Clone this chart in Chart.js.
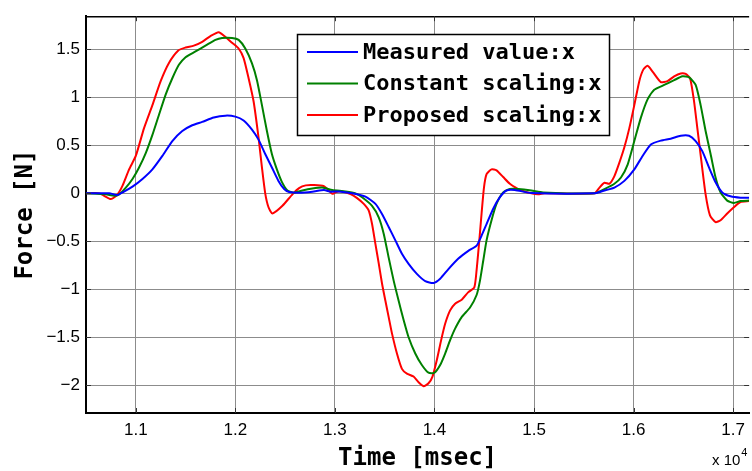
<!DOCTYPE html>
<html><head><meta charset="utf-8">
<script src="https://cdn.jsdelivr.net/npm/chart.js@4"></script>
<style>html,body{margin:0;padding:0;background:#fff}</style>
</head><body>
<canvas id="c" width="752" height="471"></canvas>
<script>
// ---- data (time in msec, force in N) ----
const seriesLabels = ['Measured value:x', 'Constant scaling:x', 'Proposed scaling:x'];
const seriesColors = ['#0000ff', '#008000', '#ff0000'];
const xTickValues = [11000, 12000, 13000, 14000, 15000, 16000, 17000];
const yTickValues = [-2, -1.5, -1, -0.5, 0, 0.5, 1, 1.5];

const measured = [[10500,0],[10733,0],[10817,-0.017],[10867,0.01],[10967,0.07],[11067,0.15],[11167,0.25],[11267,0.39],[11367,0.545],[11467,0.65],[11567,0.71],[11667,0.745],[11783,0.79],[11900,0.81],[12000,0.80],[12083,0.76],[12167,0.665],[12233,0.56],[12300,0.41],[12367,0.27],[12433,0.13],[12490,0.045],[12540,0.014],[12640,0.007],[12773,0.017],[12890,0.035],[12957,0.017],[13040,0.02],[13173,0],[13307,-0.035],[13407,-0.11],[13473,-0.215],[13540,-0.35],[13607,-0.49],[13673,-0.63],[13740,-0.735],[13823,-0.84],[13907,-0.915],[13990,-0.935],[14057,-0.89],[14140,-0.79],[14240,-0.68],[14340,-0.60],[14423,-0.545],[14473,-0.44],[14523,-0.32],[14590,-0.16],[14657,-0.04],[14723,0.03],[14807,0.035],[14973,0.003],[15607,0],[15707,0.03],[15807,0.06],[15907,0.13],[16007,0.25],[16090,0.39],[16173,0.51],[16273,0.55],[16373,0.57],[16473,0.60],[16557,0.60],[16623,0.545],[16690,0.44],[16757,0.27],[16823,0.115],[16890,0.01],[16973,-0.03],[17073,-0.045],[17160,-0.045]];

const constant = [[10500,0],[10700,-0.01],[10783,-0.025],[10833,-0.01],[10900,0.06],[10967,0.15],[11033,0.27],[11100,0.42],[11167,0.61],[11233,0.82],[11300,1.03],[11367,1.20],[11433,1.34],[11500,1.42],[11600,1.48],[11700,1.54],[11800,1.60],[11867,1.62],[11967,1.62],[12033,1.60],[12100,1.51],[12167,1.355],[12217,1.18],[12267,0.92],[12317,0.65],[12367,0.41],[12417,0.25],[12467,0.12],[12523,0.03],[12590,0.007],[12673,0.03],[12773,0.05],[12873,0.06],[12973,0.035],[13107,0.02],[13207,0],[13273,-0.04],[13373,-0.13],[13440,-0.25],[13490,-0.42],[13540,-0.67],[13590,-0.91],[13640,-1.12],[13690,-1.32],[13740,-1.50],[13807,-1.67],[13873,-1.79],[13940,-1.87],[14000,-1.87],[14057,-1.79],[14107,-1.67],[14157,-1.53],[14207,-1.41],[14273,-1.29],[14357,-1.19],[14423,-1.06],[14457,-0.91],[14490,-0.70],[14523,-0.49],[14573,-0.28],[14623,-0.11],[14690,0.01],[14757,0.045],[14840,0.045],[14973,0.03],[15090,0.01],[15607,0],[15707,0.045],[15807,0.10],[15873,0.165],[15940,0.30],[16007,0.545],[16073,0.79],[16140,0.98],[16207,1.08],[16307,1.13],[16407,1.18],[16490,1.22],[16557,1.21],[16623,1.13],[16673,0.92],[16723,0.65],[16773,0.41],[16823,0.165],[16873,0.01],[16940,-0.076],[17007,-0.10],[17073,-0.08],[17160,-0.075]];

const proposed = [[10500,0],[10633,0],[10750,-0.06],[10817,-0.01],[10867,0.08],[10933,0.25],[11000,0.39],[11083,0.68],[11167,0.92],[11250,1.17],[11333,1.36],[11427,1.49],[11500,1.52],[11583,1.54],[11667,1.58],[11750,1.64],[11833,1.68],[11900,1.63],[11967,1.57],[12033,1.51],[12083,1.41],[12133,1.20],[12183,0.96],[12233,0.58],[12267,0.27],[12300,0.0],[12333,-0.145],[12373,-0.21],[12473,-0.13],[12573,-0.01],[12640,0.055],[12707,0.083],[12790,0.086],[12890,0.075],[12940,0.03],[12973,-0.005],[13013,0.015],[13073,0.02],[13157,-0.007],[13223,-0.05],[13290,-0.11],[13340,-0.18],[13373,-0.32],[13407,-0.53],[13440,-0.73],[13473,-0.94],[13507,-1.12],[13540,-1.29],[13573,-1.46],[13623,-1.67],[13673,-1.83],[13723,-1.88],[13790,-1.91],[13840,-1.97],[13890,-2.01],[13940,-1.98],[13980,-1.91],[14023,-1.74],[14067,-1.53],[14107,-1.36],[14157,-1.22],[14207,-1.15],[14273,-1.11],[14340,-1.03],[14400,-0.98],[14423,-0.80],[14447,-0.53],[14473,-0.21],[14497,0.06],[14523,0.20],[14573,0.25],[14623,0.24],[14690,0.17],[14757,0.10],[14840,0.045],[14873,0.03],[14973,0],[15040,-0.01],[15107,0],[15607,0],[15657,0.06],[15707,0.11],[15757,0.10],[15807,0.18],[15857,0.32],[15907,0.48],[15957,0.68],[16007,0.92],[16057,1.17],[16097,1.29],[16140,1.33],[16190,1.27],[16273,1.16],[16340,1.17],[16407,1.22],[16473,1.25],[16523,1.245],[16567,1.20],[16607,0.96],[16640,0.68],[16680,0.34],[16723,-0.01],[16767,-0.23],[16823,-0.30],[16873,-0.28],[16940,-0.21],[17007,-0.145],[17073,-0.09],[17160,-0.08]];

const xTitle = 'Time [msec]';
const yTitle = 'Force [N]';
const xExpBase = 'x 10';
const xExp = '4';
const xMin = 10500, xMax = 17160, yMin = -2.29, yMax = 1.847;

// ---- chart ----
const allSeries = [measured, constant, proposed];
const datasets = allSeries.map((s, i) => ({
  label: seriesLabels[i],
  data: s.map(p => ({x: p[0], y: p[1]})),
  borderColor: seriesColors[i],
  backgroundColor: seriesColors[i],
  borderWidth: 2,
  pointRadius: 0,
  tension: 0.2,
  fill: false
}));

const TITLE_FONT = 'bold 24px "DejaVu Sans Mono"';
const LEGEND_FONT = 'bold 22px "DejaVu Sans Mono"';

const decor = {
  id: 'decor',
  afterDatasetsDraw(chart) {
    const {ctx, chartArea: a, scales: {x, y}} = chart;
    ctx.save();
    // box top
    ctx.strokeStyle = '#000';
    ctx.lineWidth = 1.5;
    ctx.beginPath();
    ctx.moveTo(a.left, a.top + 0.5); ctx.lineTo(a.right, a.top + 0.5);
    ctx.stroke();
    // inner ticks
    ctx.strokeStyle = '#333';
    ctx.lineWidth = 1;
    ctx.beginPath();
    xTickValues.forEach(v => {
      const px = Math.round(x.getPixelForValue(v)) + 0.5;
      ctx.moveTo(px, a.bottom); ctx.lineTo(px, a.bottom - 5);
      ctx.moveTo(px, a.top); ctx.lineTo(px, a.top + 5);
    });
    yTickValues.forEach(v => {
      const py = Math.round(y.getPixelForValue(v)) + 0.5;
      ctx.moveTo(a.left, py); ctx.lineTo(a.left + 5, py);
      ctx.moveTo(a.right, py); ctx.lineTo(a.right - 5, py);
    });
    ctx.stroke();

    // legend
    const lx = 297, ly = 34, lw = 312, lh = 101;
    ctx.fillStyle = '#fff';
    ctx.fillRect(lx, ly, lw, lh);
    ctx.strokeStyle = '#000';
    ctx.lineWidth = 1.5;
    ctx.strokeRect(lx + 0.5, ly + 0.5, lw, lh);
    ctx.font = LEGEND_FONT;
    ctx.textBaseline = 'middle';
    ctx.textAlign = 'left';
    chart.data.datasets.forEach((d, i) => {
      const ry = 52 + i * 31.5;
      ctx.strokeStyle = d.borderColor;
      ctx.lineWidth = 2;
      ctx.beginPath();
      ctx.moveTo(307, ry); ctx.lineTo(358, ry);
      ctx.stroke();
      ctx.fillStyle = '#000';
      ctx.fillText(d.label, 363, ry + 1);
    });
    ctx.restore();
  },
  afterDraw(chart) {
    const {ctx, chartArea: a} = chart;
    ctx.save();
    ctx.fillStyle = '#000';
    ctx.font = TITLE_FONT;
    ctx.textAlign = 'center';
    ctx.textBaseline = 'middle';
    ctx.fillText(xTitle, (a.left + a.right) / 2, 459);
    ctx.translate(26, (a.top + a.bottom) / 2);
    ctx.rotate(-Math.PI / 2);
    ctx.fillText(yTitle, 0, 0);
    ctx.restore();
    ctx.save();
    ctx.fillStyle = '#000';
    ctx.textAlign = 'left';
    ctx.textBaseline = 'alphabetic';
    ctx.font = '15px "Liberation Sans"';
    ctx.fillText(xExpBase, 712, 465);
    const w = ctx.measureText(xExpBase).width;
    ctx.font = '11px "Liberation Sans"';
    ctx.fillText(xExp, 712 + w + 1, 456);
    ctx.restore();
  }
};

new Chart(document.getElementById('c'), {
  type: 'line',
  data: {datasets},
  options: {
    responsive: false,
    animation: false,
    layout: {padding: {top: 15, right: 0, left: 0, bottom: 0}},
    plugins: {legend: {display: false}, tooltip: {enabled: false}},
    scales: {
      x: {
        type: 'linear', min: xMin, max: xMax,
        afterFit(s) { s.height = 58; },
        afterBuildTicks(s) { s.ticks = xTickValues.map(v => ({value: v})); },
        ticks: {
          callback: v => (v / 1e4).toFixed(1),
          font: {family: 'Liberation Sans', size: 17},
          color: '#000', padding: 7, maxRotation: 0, autoSkip: false
        },
        grid: {color: '#8c8c8c', lineWidth: 1, drawTicks: false},
        border: {display: true, color: '#000', width: 2}
      },
      y: {
        type: 'linear', min: yMin, max: yMax,
        afterFit(s) { s.width = 86; },
        afterBuildTicks(s) { s.ticks = yTickValues.map(v => ({value: v})); },
        ticks: {
          callback: v => String(v).replace('-', '\u2212'),
          font: {family: 'Liberation Sans', size: 17},
          color: '#000', padding: 6, autoSkip: false
        },
        grid: {color: '#8c8c8c', lineWidth: 1, drawTicks: false},
        border: {display: true, color: '#000', width: 2}
      }
    }
  },
  plugins: [decor]
});
</script>
</body></html>
